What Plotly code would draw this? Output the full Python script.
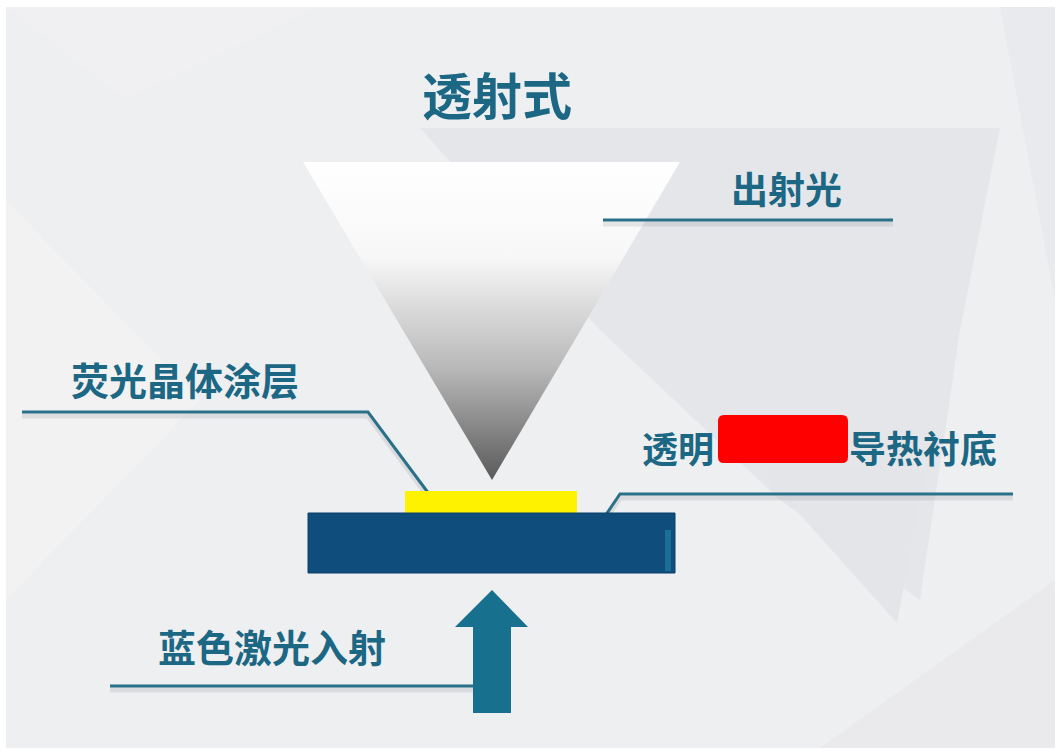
import plotly.graph_objects as go

# ---- text content ----
title_text = "透射式"
label_out = "出射光"
label_coating = "荧光晶体涂层"
label_sub_left = "透明"
label_sub_right = "导热衬底"
label_laser = "蓝色激光入射"

# ---- colours ----
TEXT = "#1c6784"
LINE = "#2a7089"
BLUE_SUB = "#0f4e7c"
YELLOW = "#fff200"
ARROW = "#18708f"
RED = "#ff0000"
FONT = "Noto Sans CJK SC"

W, H = 1061, 753

fig = go.Figure()

# ---- background ----
bg_polys = [
    ([6, 1055, 1055, 6], [7, 7, 748, 748], "#eeeff1"),
    ([50, 320, 127], [7, 7, 100], "#e5e6e9"),
    ([6, 127, 320, 6], [7, 100, 7, 7], "#f0f0f2"),
    ([420, 1000, 960, 920, 780, 600], [128, 128, 330, 600, 500, 330], "#e5e6ea"),
    ([760, 925, 897], [470, 470, 623], "#e4e5e9"),
    ([1000, 1055, 1055], [7, 7, 300], "#e9eaed"),
    ([6, 200, 6], [200, 400, 600], "#f2f2f3"),
    ([820, 1055, 1055], [748, 580, 748], "#eaeaed"),
]
for xs, ys, c in bg_polys:
    fig.add_trace(go.Scatter(x=xs + [xs[0]], y=ys + [ys[0]], fill="toself",
                             fillcolor=c, line=dict(width=0), mode="lines",
                             hoverinfo="skip", showlegend=False))

# ---- output light cone (gradient triangle) ----
cone_x = [303, 680, 492, 303]
cone_y = [162, 162, 480, 162]
fig.add_trace(go.Scatter(
    x=cone_x, y=cone_y, fill="toself", mode="lines", line=dict(width=0),
    fillgradient=dict(type="vertical", start=162, stop=480,
                      colorscale=[[0, "#ffffff"], [0.3, "#f7f7f7"],
                                  [0.65, "#b8b8b8"], [1, "#5a5a5a"]]),
    hoverinfo="skip", showlegend=False))

# ---- substrate and coating ----
fig.add_shape(type="rect", x0=405, x1=577, y0=491, y1=513,
              fillcolor=YELLOW, line=dict(width=0))
fig.add_shape(type="rect", x0=308, x1=675, y0=513, y1=573,
              fillcolor=BLUE_SUB, line=dict(color="#0b416a", width=1))
fig.add_shape(type="rect", x0=665, x1=671, y0=530, y1=571,
              fillcolor="#1b6f96", line=dict(width=0))

# ---- incident arrow ----
arrow_x = [492, 528, 511, 511, 473, 473, 455, 492]
arrow_y = [590, 627, 627, 713, 713, 627, 627, 590]
fig.add_trace(go.Scatter(x=arrow_x, y=arrow_y, fill="toself", fillcolor=ARROW,
                         mode="lines", line=dict(width=0), hoverinfo="skip",
                         showlegend=False))

# ---- leader lines (with soft shadow) ----
leaders = [
    ([603, 893], [220, 220]),
    ([22, 368, 435], [412, 412, 502]),
    ([1013, 620, 580], [494, 494, 553]),
    ([110, 473], [686, 686]),
]
for xs, ys in leaders:
    fig.add_trace(go.Scatter(x=xs, y=[y + 4 for y in ys], mode="lines",
                             line=dict(color="rgba(120,120,130,0.16)", width=5),
                             hoverinfo="skip", showlegend=False))
    fig.add_trace(go.Scatter(x=xs, y=ys, mode="lines",
                             line=dict(color=LINE, width=3),
                             hoverinfo="skip", showlegend=False))

# ---- red masking box ----
fig.add_shape(type="path",
              path="M 724 415 L 842 415 Q 848 415 848 421 L 848 457 Q 848 463 842 463 "
                   "L 724 463 Q 718 463 718 457 L 718 421 Q 718 415 724 415 Z",
              fillcolor=RED, line=dict(width=0))

# ---- texts ----
def txt(x, y, s, size, anchor="center"):
    fig.add_annotation(x=x, y=y, text="<b>" + s + "</b>", showarrow=False,
                       xanchor=anchor, yanchor="middle",
                       font=dict(family=FONT, size=size, color=TEXT))

txt(497, 93, title_text, 50)
txt(786, 188, label_out, 37)
txt(185, 378, label_coating, 38)
txt(716, 447, label_sub_left, 36, anchor="right")
txt(847, 447, label_sub_right, 37, anchor="left")
txt(272, 645, label_laser, 38)

fig.update_layout(
    width=W, height=H, margin=dict(l=0, r=0, t=0, b=0),
    paper_bgcolor="white", plot_bgcolor="white",
    xaxis=dict(range=[0, W], visible=False, fixedrange=True),
    yaxis=dict(range=[H, 0], visible=False, fixedrange=True),
    showlegend=False,
)
fig.write_html("out.html", config={"displayModeBar": False},
               post_script="document.body.style.margin='0';"
                           "document.body.style.overflow='hidden';")
